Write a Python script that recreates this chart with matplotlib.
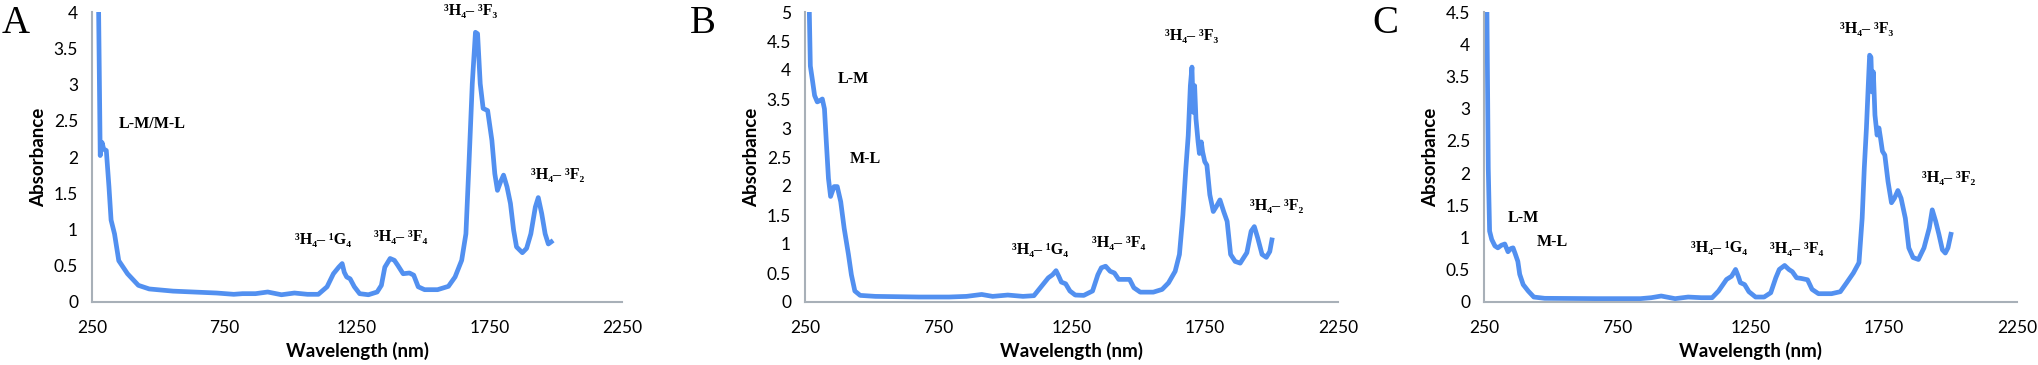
import matplotlib
matplotlib.use("Agg")
import matplotlib.pyplot as plt
from matplotlib.ticker import FuncFormatter

# =====================================================
# DATA
# =====================================================

# Panel A
wl_a = [272, 281, 288, 294, 304, 314, 322, 335, 351, 384, 425, 466, 556, 720, 785,
        818, 867, 913, 965, 1014, 1063, 1104, 1137, 1161, 1181, 1194, 1202, 1211,
        1224, 1240, 1260, 1293, 1326, 1342, 1355, 1375, 1391, 1404, 1424, 1448,
        1464, 1481, 1505, 1554, 1595, 1620, 1645, 1661, 1672, 1685, 1697, 1705,
        1715, 1726, 1743, 1759, 1770, 1780, 1792, 1803, 1816, 1829, 1841, 1852,
        1874, 1890, 1906, 1923, 1934, 1947, 1960, 1972, 1983]
abs_a = [5.0, 2.02, 2.20, 2.11, 2.09, 1.59, 1.13, 0.94, 0.57, 0.39, 0.23, 0.18, 0.15,
         0.124, 0.106, 0.115, 0.115, 0.138, 0.10, 0.124, 0.106, 0.106, 0.21, 0.39,
         0.48, 0.53, 0.41, 0.345, 0.32, 0.21, 0.115, 0.10, 0.138, 0.23, 0.48, 0.60,
         0.575, 0.505, 0.39, 0.40, 0.37, 0.21, 0.17, 0.17, 0.216, 0.345, 0.575,
         0.94, 1.86, 3.01, 3.72, 3.70, 3.01, 2.67, 2.64, 2.23, 1.77, 1.54, 1.66,
         1.75, 1.59, 1.36, 0.99, 0.76, 0.68, 0.74, 0.94, 1.31, 1.44, 1.22, 0.94,
         0.80, 0.83]

# Panel B
wl_b = [265, 270, 278, 286, 296, 305, 315, 323, 330, 338, 346, 359, 371, 384, 397,
        413, 424, 437, 457, 514, 677, 791, 856, 913, 954, 1011, 1068, 1109, 1133,
        1163, 1179, 1192, 1202, 1212, 1228, 1244, 1264, 1296, 1329, 1349, 1362,
        1378, 1395, 1411, 1427, 1446, 1468, 1484, 1508, 1557, 1590, 1614, 1639,
        1655, 1668, 1679, 1688, 1696, 1702, 1707, 1712, 1717, 1725, 1730, 1737,
        1742, 1750, 1758, 1769, 1782, 1794, 1807, 1821, 1834, 1847, 1864, 1883,
        1908, 1924, 1936, 1949, 1965, 1981, 1994, 2002]
abs_b = [5.3, 4.07, 3.82, 3.56, 3.45, 3.47, 3.50, 3.33, 2.76, 2.13, 1.82, 1.99, 1.99,
         1.73, 1.27, 0.82, 0.47, 0.19, 0.114, 0.097, 0.086, 0.086, 0.097, 0.13,
         0.097, 0.12, 0.097, 0.109, 0.246, 0.417, 0.47, 0.54, 0.446, 0.343, 0.314,
         0.19, 0.12, 0.114, 0.19, 0.47, 0.59, 0.617, 0.53, 0.50, 0.39, 0.39, 0.39,
         0.246, 0.17, 0.17, 0.217, 0.33, 0.53, 0.82, 1.50, 2.30, 2.87, 3.73, 4.05,
         3.27, 3.73, 3.16, 2.76, 2.56, 2.76, 2.59, 2.42, 2.36, 1.85, 1.56, 1.65,
         1.76, 1.56, 1.39, 0.82, 0.70, 0.67, 0.85, 1.22, 1.30, 1.10, 0.82, 0.77,
         0.87, 1.07]

# Panel C
wl_c = [260, 266, 271, 279, 291, 302, 315, 328, 340, 351, 359, 367, 377, 384, 397,
        416, 437, 478, 674, 837, 878, 915, 967, 1016, 1065, 1106, 1130, 1160, 1179,
        1194, 1204, 1212, 1228, 1244, 1269, 1301, 1326, 1345, 1358, 1378, 1394,
        1407, 1423, 1440, 1464, 1481, 1505, 1554, 1587, 1611, 1636, 1657, 1669,
        1677, 1685, 1692, 1697, 1702, 1706, 1711, 1717, 1725, 1732, 1738, 1745,
        1754, 1766, 1779, 1790, 1803, 1815, 1831, 1844, 1860, 1880, 1901, 1921,
        1932, 1945, 1957, 1970, 1981, 1991, 2002]
abs_c = [5.0, 2.08, 1.10, 0.97, 0.87, 0.84, 0.88, 0.90, 0.78, 0.83, 0.84, 0.75, 0.63,
         0.43, 0.27, 0.17, 0.077, 0.057, 0.052, 0.052, 0.067, 0.093, 0.052, 0.077,
         0.067, 0.067, 0.17, 0.35, 0.40, 0.505, 0.40, 0.30, 0.27, 0.16, 0.077,
         0.077, 0.144, 0.376, 0.505, 0.567, 0.505, 0.47, 0.376, 0.366, 0.345,
         0.196, 0.129, 0.129, 0.16, 0.30, 0.45, 0.61, 1.30, 2.08, 2.70, 3.37, 3.83,
         3.80, 3.26, 3.57, 2.90, 2.59, 2.70, 2.54, 2.34, 2.28, 1.87, 1.54, 1.61,
         1.73, 1.61, 1.30, 0.84, 0.69, 0.66, 0.84, 1.15, 1.43, 1.25, 1.05, 0.81,
         0.76, 0.84, 1.05]

panel_letters = ["A", "B", "C"]
y_max = [4.0, 5.0, 4.5]

# transition labels per panel: (text, x, y, horizontal alignment)
F3 = "³H₄– ³F₃"
F2 = "³H₄– ³F₂"
G4 = "³H₄– ¹G₄"
F4 = "³H₄– ³F₄"
labels_a = [("L-M/M-L", 350, 2.45, "left"), (F3, 1680, 4.02, "center"),
            (F2, 2007, 1.75, "center"), (G4, 1123, 0.86, "center"),
            (F4, 1415, 0.90, "center")]
labels_b = [("L-M", 371, 3.85, "left"), ("M-L", 416, 2.46, "left"),
            (F3, 1699, 4.59, "center"), (F2, 2020, 1.66, "center"),
            (G4, 1131, 0.90, "center"), (F4, 1427, 1.02, "center")]
labels_c = [("L-M", 340, 1.30, "left"), ("M-L", 449, 0.93, "left"),
            (F3, 1686, 4.24, "center"), (F2, 1994, 1.92, "center"),
            (G4, 1131, 0.84, "center"), (F4, 1422, 0.83, "center")]

# =====================================================
# STYLE
# =====================================================

LINE_COLOR  = "#5290f0"
SPINE_COLOR = "#a8b0b8"
SANS  = ["Lato", "DejaVu Sans"]
SERIF = ["Liberation Serif", "DejaVu Serif"]

fig = plt.figure(figsize=(20.38, 3.65), dpi=100)

# axes boxes in figure fraction (left, bottom, width, height)
boxes = [(92 / 2038, 63 / 365, 530 / 2038, 290 / 365),
         (805 / 2038, 63 / 365, 533 / 2038, 290 / 365),
         (1484 / 2038, 63 / 365, 533 / 2038, 290 / 365)]
letter_x = [2 / 2038, 690 / 2038, 1372 / 2038]

series = [(wl_a, abs_a, labels_a), (wl_b, abs_b, labels_b), (wl_c, abs_c, labels_c)]

for i, (wl, ab, labs) in enumerate(series):
    ax = fig.add_axes(boxes[i])
    ax.plot(wl, ab, color=LINE_COLOR, linewidth=3.4, solid_joinstyle="round")

    ax.set_xlim(250, 2250)
    ax.set_ylim(0, y_max[i])
    ax.set_xticks([250, 750, 1250, 1750, 2250])
    ax.set_yticks([k * 0.5 for k in range(int(y_max[i] * 2) + 1)])
    ax.yaxis.set_major_formatter(FuncFormatter(lambda v, p: f"{v:g}"))

    for s in ["top", "right"]:
        ax.spines[s].set_visible(False)
    for s in ["left", "bottom"]:
        ax.spines[s].set_color(SPINE_COLOR)
        ax.spines[s].set_linewidth(1.5)

    ax.tick_params(axis="y", length=0, labelsize=12.5, pad=10)
    ax.tick_params(axis="x", length=0, labelsize=12.5, pad=13)
    for t in ax.get_xticklabels() + ax.get_yticklabels():
        t.set_family(SANS)

    ax.set_xlabel("Wavelength (nm)", fontsize=13.5, fontweight="bold", family=SANS, labelpad=4)
    ax.set_ylabel("Absorbance", fontsize=13.5, fontweight="bold", family=SANS, labelpad=5)

    for txt, x, y, ha in labs:
        ax.text(x, y, txt, ha=ha, va="center", fontsize=11.5, fontweight="bold",
                family=SERIF, clip_on=False)

    fig.text(letter_x[i], 0.985, panel_letters[i], ha="left", va="top",
             fontsize=28, family=SERIF)

plt.savefig("out.png", dpi=100)
